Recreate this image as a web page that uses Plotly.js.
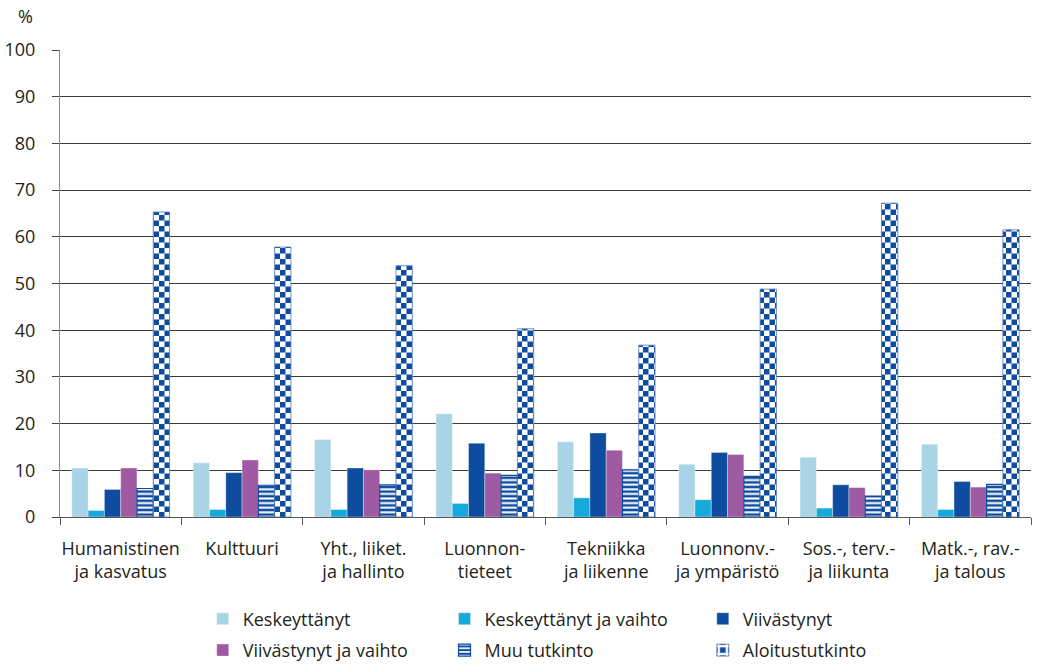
<!DOCTYPE html>
<html>
<head>
<meta charset="utf-8">
<script src="https://cdn.plot.ly/plotly-3.0.1.min.js"></script>
<style>
  html, body { margin: 0; padding: 0; background: #fff; }
  #chart { width: 1037px; height: 664px; }
</style>
</head>
<body>
<div id="chart"></div>
<script>
// ---- Data ----
const categories = [
  "Humanistinen<br>ja kasvatus",
  "Kulttuuri",
  "Yht., liiket.<br>ja hallinto",
  "Luonnon-<br>tieteet",
  "Tekniikka<br>ja liikenne",
  "Luonnonv.-<br>ja ympäristö",
  "Sos.-, terv.-<br>ja liikunta",
  "Matk.-, rav.-<br>ja talous"
];
const seriesNames = ["Keskeyttänyt", "Keskeyttänyt ja vaihto", "Viivästynyt",
                     "Viivästynyt ja vaihto", "Muu tutkinto", "Aloitustutkinto"];
const keskeyttanyt      = [10.5, 11.6, 16.6, 22.1, 16.1, 11.3, 12.8, 15.6];
const keskeyttanytVaihto = [1.4, 1.6, 1.6, 2.9, 4.1, 3.7, 1.9, 1.6];
const viivastynyt       = [5.9, 9.5, 10.5, 15.8, 18.0, 13.8, 6.9, 7.6];
const viivastynytVaihto = [10.5, 12.2, 10.1, 9.4, 14.3, 13.4, 6.3, 6.4];
const muuTutkinto       = [6.1, 6.8, 6.9, 8.9, 10.1, 8.7, 4.5, 7.0];
const aloitustutkinto   = [65.3, 57.8, 53.8, 40.3, 36.8, 48.8, 67.2, 61.5];
const yTicks = [0, 10, 20, 30, 40, 50, 60, 70, 80, 90, 100];

// ---- Styles ----
const BLUE = "#0d4c9e";
const FONT = "Open Sans, Noto Sans, sans-serif";
const TXT = "#231f20";

function bar(name, y, color, legend, extra) {
  return Object.assign({
    type: "bar", name: name, x: categories, y: y,
    legend: legend, legendgroup: name,
    marker: { color: color, line: { color: "rgba(255,255,255,0.35)", width: 1 } },
    hoverinfo: "y+name"
  }, extra || {});
}

const data = [
  bar(seriesNames[0], keskeyttanyt, "#a9d3e7", "legend"),
  bar(seriesNames[1], keskeyttanytVaihto, "#16a9dc", "legend2"),
  bar(seriesNames[2], viivastynyt, BLUE, "legend3"),
  bar(seriesNames[3], viivastynytVaihto, "#9e5ba3", "legend"),
  bar(seriesNames[4], muuTutkinto, BLUE, "legend2", {
    marker: { color: BLUE, line: { color: BLUE, width: 1.2 },
      pattern: { shape: "-", bgcolor: BLUE, fgcolor: "#ffffff", size: 4.6, solidity: 0.45, fillmode: "replace" } }
  }),
  bar(seriesNames[5], aloitustutkinto, BLUE, "legend3", {
    marker: { color: BLUE, line: { color: "rgba(80,120,190,0.8)", width: 1 },
      pattern: { shape: "+", bgcolor: BLUE, fgcolor: "#ffffff", size: 11, solidity: 0.5, fillmode: "replace" } }
  })
];

const legendBase = {
  orientation: "v", xanchor: "left", yanchor: "top", yref: "container", y: 0.0956,
  font: { family: FONT, size: 18, color: TXT },
  bgcolor: "rgba(0,0,0,0)", borderwidth: 0, tracegroupgap: 5, traceorder: "grouped"
};

const layout = {
  width: 1037, height: 664,
  margin: { l: 60, r: 6, t: 50, b: 147 },
  paper_bgcolor: "#ffffff", plot_bgcolor: "#ffffff",
  font: { family: FONT, size: 18, color: TXT },
  barmode: "group", bargap: 0.195, bargroupgap: 0,
  showlegend: true,
  legend: Object.assign({}, legendBase, { x: 0.147 }),
  legend2: Object.assign({}, legendBase, { x: 0.396 }),
  legend3: Object.assign({}, legendBase, { x: 0.662 }),
  xaxis: {
    type: "category", tickson: "boundaries", tickangle: 0, automargin: false,
    ticks: "outside", ticklen: 7, tickcolor: "#555", tickwidth: 1,
    showline: true, linecolor: "#555", linewidth: 1,
    showgrid: false, zeroline: false,
    tickfont: { family: FONT, size: 18, color: TXT },
    ticklabelstandoff: 15
  },
  yaxis: {
    range: [0, 100], tickvals: yTicks, ticktext: yTicks.map(String), automargin: false,
    ticks: "outside", ticklen: 7, tickcolor: "#444", tickwidth: 1,
    showline: true, linecolor: "#888", linewidth: 1,
    showgrid: true, gridcolor: "#3a3a3a", gridwidth: 1,
    zeroline: false,
    tickfont: { family: FONT, size: 18, color: TXT },
    ticklabelstandoff: 13
  },
  annotations: [{
    text: "%", xref: "paper", yref: "paper", x: -0.036, y: 1.0, yshift: 34,
    xanchor: "center", yanchor: "middle", showarrow: false,
    font: { family: FONT, size: 18, color: TXT }
  }]
};

const gd = document.getElementById("chart");
Plotly.newPlot(gd, data, layout, { staticPlot: true, displayModeBar: false }).then(function () {
  // Replace Aloitustutkinto's fill with a checkerboard pattern (style only)
  try {
    const NS = "http://www.w3.org/2000/svg";
    const svg = gd.querySelector("svg.main-svg");
    let defs = svg.querySelector("defs");
    if (!defs) { defs = document.createElementNS(NS, "defs"); svg.insertBefore(defs, svg.firstChild); }
    const makePattern = (id, cell, off) => {
      const pat = document.createElementNS(NS, "pattern");
      pat.setAttribute("id", id);
      pat.setAttribute("patternUnits", "userSpaceOnUse");
      pat.setAttribute("x", off); pat.setAttribute("y", off);
      pat.setAttribute("width", 2 * cell); pat.setAttribute("height", 2 * cell);
      const mk = (x, y, w, h, c) => { const r = document.createElementNS(NS, "rect");
        r.setAttribute("x", x); r.setAttribute("y", y); r.setAttribute("width", w); r.setAttribute("height", h);
        r.setAttribute("fill", c); pat.appendChild(r); };
      mk(0, 0, 2 * cell, 2 * cell, "#ffffff");
      mk(0, 0, cell, cell, BLUE);
      mk(cell, cell, cell, cell, BLUE);
      defs.appendChild(pat);
    };
    makePattern("checkerPattern", 5.5, 0);
    makePattern("checkerPatternLegend", 4, -6);
    const traces = gd.querySelectorAll(".barlayer .trace");
    if (traces[5]) traces[5].querySelectorAll("path").forEach(p => { p.style.fill = "url(#checkerPattern)"; });
    // legend entries
    gd.querySelectorAll("g.traces").forEach(t => {
      const txt = t.querySelector(".legendtext");
      if (txt && txt.textContent === seriesNames[5]) {
        t.querySelectorAll(".legendpoints path").forEach(p => { p.style.fill = "url(#checkerPatternLegend)"; });
      }
    });
  } catch (e) { console.log(e); }
});
</script>
</body>
</html>
